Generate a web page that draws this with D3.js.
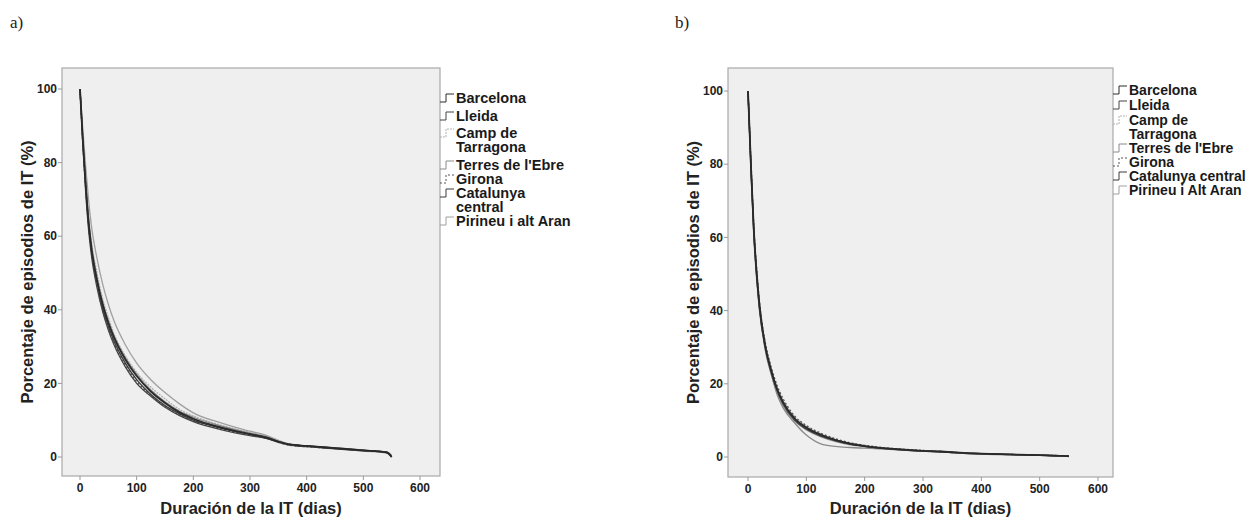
<!DOCTYPE html>
<html>
<head>
<meta charset="utf-8">
<script src="https://cdn.jsdelivr.net/npm/d3@7"></script>
<style>
  body { margin: 0; background: #fff; }
  svg text { font-family: "Liberation Sans", Arial, sans-serif; }
</style>
</head>
<body>
<svg id="vis" width="1255" height="519"></svg>
<script>
// curvas de supervivencia (% episodios de IT que siguen abiertos)
const days = [0, 5, 10, 15, 20, 30, 40, 50, 60, 80, 100, 125, 150, 175, 200, 250, 300, 330, 350, 370, 400, 450, 500, 540, 545, 550];
const regions = ["Barcelona", "Lleida", "Camp de Tarragona", "Terres de l'Ebre", "Girona", "Catalunya central", "Pirineu i alt Aran"];
const xTicks = [0, 100, 200, 300, 400, 500, 600];
const yTicks = [0, 20, 40, 60, 80, 100];

// panel a
const aBarcelona = [100, 86, 74, 64, 57, 48, 41.5, 36.5, 32.5, 26.5, 22, 17.8, 14.7, 12.2, 10.4, 8, 6.2, 5.2, 4.2, 3.4, 3, 2.4, 1.8, 1.3, 0.9, 0];
const aLleida = [100, 85, 72, 62, 55, 46, 39.5, 34.5, 30.5, 24.5, 20, 16.5, 13.5, 11.3, 9.6, 7.4, 5.8, 5, 4, 3.2, 2.8, 2.2, 1.7, 1.2, 0.8, 0];
const aCamp = [100, 87, 76, 66, 59, 50, 43, 38, 33.5, 27.5, 23, 19, 15.8, 13, 11.2, 8.6, 6.7, 5.6, 4.5, 3.5, 3, 2.4, 1.8, 1.3, 1, 0];
const aTerres = [100, 86, 75, 65, 58, 49, 42, 37, 33, 27, 22.5, 18.2, 15, 12.5, 10.8, 8.4, 6.5, 5.5, 4.3, 3.4, 3, 2.5, 1.9, 1.2, 1, 0.2];
const aGirona = [100, 85, 73, 63, 56, 47, 40, 35, 31, 25, 20.5, 16.8, 13.8, 11.5, 9.8, 7.6, 6, 5, 4, 3.2, 2.8, 2.3, 1.8, 1.3, 1, 0];
const aCatalunya = [100, 86, 74, 64, 56.5, 47.5, 40.5, 35.5, 31.5, 25.5, 21, 17, 14, 11.8, 10, 7.8, 6.2, 5.3, 4.2, 3.4, 3, 2.4, 1.8, 1.4, 1.1, 0];
const aPirineu = [100, 89, 79, 70, 63, 54, 47, 41.5, 37, 30.5, 25.5, 21, 17.5, 14.5, 12, 9.2, 7, 5.8, 4.5, 3.5, 3, 2.3, 1.6, 1.1, 0.9, 0.5];

// panel b
const bBarcelona = [100, 80, 62, 50, 41, 30, 23.5, 18.5, 15, 10.5, 8, 6, 4.6, 3.6, 3, 2.2, 1.7, 1.5, 1.3, 1.1, 0.9, 0.7, 0.5, 0.3, 0.25, 0.2];
const bLleida = [100, 79, 61, 49, 40, 29.5, 23, 18, 14.5, 10, 7.6, 5.7, 4.4, 3.5, 2.9, 2.1, 1.6, 1.4, 1.2, 1, 0.85, 0.65, 0.45, 0.3, 0.25, 0.2];
const bCamp = [100, 80, 62.5, 50.5, 41.5, 30.5, 24, 19, 15.5, 11, 8.4, 6.3, 4.8, 3.8, 3.1, 2.3, 1.8, 1.5, 1.3, 1.1, 0.9, 0.7, 0.5, 0.35, 0.3, 0.2];
const bTerres = [100, 80, 61, 49, 40, 29, 22.5, 17, 13.5, 9.3, 6, 3.6, 2.9, 2.6, 2.4, 2, 1.6, 1.4, 1.2, 1, 0.8, 0.6, 0.5, 0.3, 0.2, 0.2];
const bGirona = [100, 81, 63, 51, 42, 31, 24.5, 19.5, 16, 11.2, 8.6, 6.5, 5, 3.9, 3.2, 2.3, 1.8, 1.5, 1.3, 1.1, 0.9, 0.7, 0.5, 0.35, 0.3, 0.2];
const bCatalunya = [100, 80, 62, 50, 41, 30, 23.5, 18.5, 15, 10.5, 8.1, 6.1, 4.7, 3.7, 3, 2.2, 1.7, 1.5, 1.3, 1.1, 0.9, 0.7, 0.5, 0.3, 0.25, 0.2];
const bPirineu = [100, 78, 60, 48, 39.5, 29, 22.5, 17.5, 14, 9.8, 7.4, 5.5, 4.2, 3.3, 2.8, 2.1, 1.6, 1.4, 1.2, 1, 0.85, 0.65, 0.45, 0.3, 0.25, 0.2];

const styles = [
  { color: "#2a2a2a", dash: null },
  { color: "#444", dash: null },
  { color: "#b0b0b0", dash: "2,1" },
  { color: "#8a8a8a", dash: null },
  { color: "#555", dash: "2,2" },
  { color: "#3a3a3a", dash: null },
  { color: "#a0a0a0", dash: null }
];

const svg = d3.select("#vis");

svg.append("text").attr("x", 10).attr("y", 28)
  .style("font-family", "'Liberation Serif', 'DejaVu Serif', serif")
  .style("font-size", "17px").attr("fill", "#222").text("a)");
svg.append("text").attr("x", 675).attr("y", 28)
  .style("font-family", "'Liberation Serif', 'DejaVu Serif', serif")
  .style("font-size", "17px").attr("fill", "#222").text("b)");

function drawPanel(cfg) {
  const g = svg.append("g");
  const x = d3.scaleLinear().domain([0, 600]).range([cfg.x0, cfg.x600]);
  const y = d3.scaleLinear().domain([0, 100]).range([457, cfg.y100]);

  // fondo
  g.append("rect")
    .attr("x", cfg.left).attr("y", cfg.top)
    .attr("width", cfg.right - cfg.left).attr("height", cfg.bottom - cfg.top)
    .attr("fill", "#efefef").attr("stroke", "#a9a9a9").attr("stroke-width", 1.2);

  // ejes
  g.selectAll(".yt").data(yTicks).enter().append("line")
    .attr("x1", cfg.left - 4).attr("x2", cfg.left)
    .attr("y1", d => y(d)).attr("y2", d => y(d))
    .attr("stroke", "#999");
  g.selectAll(".yl").data(yTicks).enter().append("text")
    .attr("x", cfg.left - 5).attr("y", d => y(d))
    .attr("text-anchor", "end").attr("dy", "0.35em")
    .style("font-size", "12px").style("font-weight", "bold").attr("fill", "#222")
    .text(d => d);
  g.selectAll(".xt").data(xTicks).enter().append("line")
    .attr("x1", d => x(d)).attr("x2", d => x(d))
    .attr("y1", cfg.bottom).attr("y2", cfg.bottom + 4)
    .attr("stroke", "#999");
  g.selectAll(".xl").data(xTicks).enter().append("text")
    .attr("x", d => x(d)).attr("y", cfg.bottom + 16)
    .attr("text-anchor", "middle")
    .style("font-size", "12px").style("font-weight", "bold").attr("fill", "#222")
    .text(d => d);

  g.append("text")
    .attr("x", (cfg.left + cfg.right) / 2).attr("y", cfg.xTitleY)
    .attr("text-anchor", "middle")
    .style("font-size", "16.5px").style("font-weight", "bold").attr("fill", "#222")
    .text("Duración de la IT (dias)");
  g.append("text")
    .attr("transform", `translate(${cfg.yTitleX},${(cfg.top + cfg.bottom) / 2}) rotate(-90)`)
    .attr("text-anchor", "middle").attr("dy", "0.35em")
    .style("font-size", "16.5px").style("font-weight", "bold").attr("fill", "#222")
    .text("Porcentaje de episodios de IT (%)");

  // curvas
  const line = d3.line()
    .x((d, i) => x(days[i]))
    .y(d => y(d))
    .curve(d3.curveMonotoneX);

  const order = [6, 2, 3, 4, 5, 1, 0];
  order.forEach(k => {
    g.append("path")
      .attr("d", line(cfg.series[k]))
      .attr("fill", "none")
      .attr("stroke", styles[k].color)
      .attr("stroke-width", k === 0 ? 1.8 : 1.3)
      .attr("stroke-dasharray", styles[k].dash);
  });

  // leyenda
  const leg = g.append("g");
  cfg.legend.forEach((it, k) => {
    const sy = it.rows[0];
    leg.append("path")
      .attr("d", `M${cfg.right},${sy + 4}h6v-8h8`)
      .attr("fill", "none")
      .attr("stroke", styles[k].color)
      .attr("stroke-width", 1)
      .attr("stroke-dasharray", styles[k].dash);
    it.lines.forEach((txt, j) => {
      leg.append("text")
        .attr("x", cfg.right + 16).attr("y", it.rows[j])
        .attr("dy", "0.35em")
        .style("font-size", cfg.legSize).style("font-weight", "bold").attr("fill", "#1a1a1a")
        .text(txt);
    });
  });
}

drawPanel({
  left: 62, right: 440, top: 68, bottom: 476,
  x0: 80, x600: 420, y100: 89,
  xTitleY: 514, yTitleX: 27, legSize: "14.5px",
  series: [aBarcelona, aLleida, aCamp, aTerres, aGirona, aCatalunya, aPirineu],
  legend: [
    { lines: ["Barcelona"], rows: [98] },
    { lines: ["Lleida"], rows: [116] },
    { lines: ["Camp de", "Tarragona"], rows: [133, 147] },
    { lines: ["Terres de l'Ebre"], rows: [165] },
    { lines: ["Girona"], rows: [179] },
    { lines: ["Catalunya", "central"], rows: [193, 207] },
    { lines: ["Pirineu i alt Aran"], rows: [221] }
  ]
});

drawPanel({
  left: 728, right: 1113, top: 68, bottom: 477,
  x0: 748, x600: 1098, y100: 91,
  xTitleY: 514, yTitleX: 693, legSize: "14px",
  series: [bBarcelona, bLleida, bCamp, bTerres, bGirona, bCatalunya, bPirineu],
  legend: [
    { lines: ["Barcelona"], rows: [90] },
    { lines: ["Lleida"], rows: [105] },
    { lines: ["Camp de", "Tarragona"], rows: [120, 134] },
    { lines: ["Terres de l'Ebre"], rows: [148] },
    { lines: ["Girona"], rows: [162] },
    { lines: ["Catalunya central"], rows: [176] },
    { lines: ["Pirineu i Alt Aran"], rows: [190] }
  ]
});
</script>
</body>
</html>
